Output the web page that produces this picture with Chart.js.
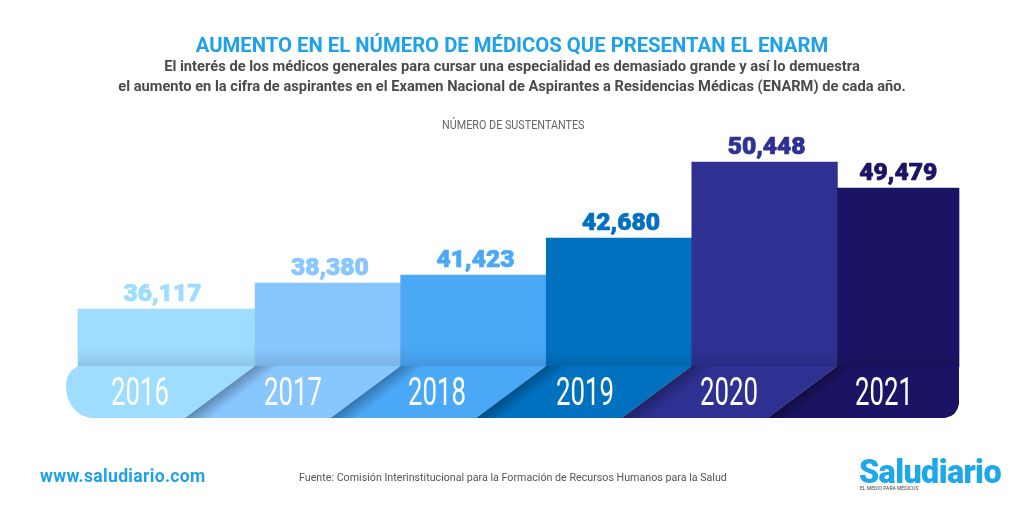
<!DOCTYPE html>
<html lang="es">
<head>
<meta charset="utf-8">
<style>
html,body{margin:0;padding:0;background:#fff;width:1024px;height:512px;overflow:hidden}
#wrap{position:relative;width:1024px;height:512px}
canvas{position:absolute;left:0;top:0}
.t{position:absolute;white-space:nowrap;font-family:Roboto,sans-serif}
.c{left:0;width:1024px;text-align:center}
</style>
<script src="https://cdn.jsdelivr.net/npm/chart.js@4"></script>
</head>
<body>
<div id="wrap">
<canvas id="c" width="1024" height="512"></canvas>
<div class="t c" style="top:33px;font-size:20.3px;font-weight:700;color:#1ea1ea">AUMENTO EN EL NÚMERO DE MÉDICOS QUE PRESENTAN EL ENARM</div>
<div class="t c" style="top:57px;font-size:14.7px;font-weight:700;color:#4a4a4a">El interés de los médicos generales para cursar una especialidad es demasiado grande y así lo demuestra</div>
<div class="t c" style="top:77px;font-size:14.65px;font-weight:700;color:#4a4a4a">el aumento en la cifra de aspirantes en el Examen Nacional de Aspirantes a Residencias Médicas (ENARM) de cada año.</div>
<div class="t" style="left:442px;top:116px;font-size:13.5px;color:#666;transform:scaleX(.8);transform-origin:left top">NÚMERO DE SUSTENTANTES</div>
<div class="t" style="left:40px;top:466px;font-size:17.6px;font-weight:700;letter-spacing:.3px;color:#1ea1ea">www.saludiario.com</div>
<div class="t" style="left:299px;top:471px;font-size:10.7px;color:#555">Fuente: Comisión Interinstitucional para la Formación de Recursos Humanos para la Salud</div>
<div class="t" style="left:859px;top:453px;font-size:32.3px;font-weight:900;letter-spacing:-.6px;color:#1ea7ea">Saludiario</div>
<div class="t" style="left:860px;top:485px;font-size:5px;color:#444">EL MEDIO PARA MÉDICOS</div>
</div>
<script>
const anios = ['2016','2017','2018','2019','2020','2021'];
// Printed figures, as labelled on the bars.
const sustentantes = [36117,38380,41423,42680,50448,49479];
// Bar heights as actually drawn in the picture: the original is not to scale with
// its printed figures, so the heights are read separately from the labels.
const alturas = [36117,38657,39436,43042,50448,47915];
const colores = ['#9EDDFF','#88C6FF','#4AA8F7','#0071BF','#2E3192','#1B1464'];

const BAND_TOP = 366, BAND_BOTTOM = 418, SLANT = 70, LEFT_X = 78, RIGHT_X = 959;

function fmt(n){ return n.toLocaleString('en-US'); }

function fitText(ctx, txt, cx, baseY, width, font, color, heavy){
  ctx.save();
  ctx.font = font; ctx.fillStyle = color;
  ctx.textAlign = 'center'; ctx.textBaseline = 'alphabetic';
  const w = ctx.measureText(txt).width;
  ctx.translate(cx, baseY); ctx.scale(width / w, 1);
  if (heavy){ ctx.strokeStyle = color; ctx.lineWidth = heavy; ctx.lineJoin = 'round'; ctx.strokeText(txt, 0, 0); }
  ctx.fillText(txt, 0, 0);
  ctx.restore();
}

const reshape = {
  id: 'reshape',
  // The first and last columns are not one category wide in the original,
  // and the columns stop where the band begins.
  beforeDatasetsDraw(chart){
    const bars = chart.getDatasetMeta(0).data;
    const first = bars[0], last = bars[bars.length - 1];
    const fr = first.x + first.width / 2;
    first.width = fr - LEFT_X; first.x = LEFT_X + first.width / 2;
    const ll = last.x - last.width / 2;
    last.width = RIGHT_X - ll; last.x = ll + last.width / 2;
    bars.forEach(b => { b.base = BAND_TOP + 1; });
  }
};

const band = {
  id: 'band',
  afterDatasetsDraw(chart){
    const ctx = chart.ctx, bars = chart.getDatasetMeta(0).data, n = bars.length;
    const T = BAND_TOP, B = BAND_BOTTOM;
    // contact shadow at the foot of every column
    bars.forEach(b => {
      const l = b.x - b.width / 2;
      const g = ctx.createLinearGradient(0, T - 18, 0, T);
      g.addColorStop(0, 'rgba(0,0,0,0)'); g.addColorStop(1, 'rgba(0,0,0,.10)');
      ctx.fillStyle = g; ctx.fillRect(l, T - 18, b.width, 18);
    });
    for (let i = 0; i < n; i++){
      const b = bars[i];
      const l = b.x - b.width / 2, r = b.x + b.width / 2;
      ctx.save();
      ctx.beginPath();
      if (i === 0){
        ctx.moveTo(LEFT_X, T);
        ctx.quadraticCurveTo(66, T + 6, 66, T + 20);
        ctx.bezierCurveTo(66, T + 38, 78, B, 93, B);
      } else {
        ctx.moveTo(l, T); ctx.lineTo(l - SLANT, B);
      }
      if (i === n - 1){
        ctx.lineTo(RIGHT_X - 14, B);
        ctx.quadraticCurveTo(RIGHT_X - 2, B - 2, RIGHT_X, B - 14);
        ctx.lineTo(RIGHT_X, T);
      } else {
        ctx.lineTo(r - SLANT, B); ctx.lineTo(r, T);
      }
      ctx.closePath();
      ctx.fillStyle = colores[i];
      ctx.fill();
      ctx.clip();
      if (i > 0){
        // soft shadow along the fold
        const g = ctx.createLinearGradient(l - 37, T + 26, l - 27, T + 39);
        g.addColorStop(0, 'rgba(0,0,0,.32)'); g.addColorStop(1, 'rgba(0,0,0,0)');
        ctx.fillStyle = g; ctx.fillRect(l - SLANT, T, 110, B - T);
      }
      ctx.restore();
    }
    const yearX = [140,293,437,585,729,884];
    anios.forEach((y, i) => {
      fitText(ctx, y, yearX[i], 405, 58, "38px 'Liberation Sans Narrow', Roboto, sans-serif", '#ffffff');
      const b = bars[i];
      fitText(ctx, fmt(sustentantes[i]), i === 5 ? b.x : b.x + (i === 0 ? -4 : 2), b.y - 8, 78, "900 24px Roboto, sans-serif", colores[i], 0.7);
    });
  }
};

new Chart(document.getElementById('c'), {
  type: 'bar',
  data: { labels: anios, datasets: [{ label: 'Número de sustentantes', data: alturas, backgroundColor: colores,
    barPercentage: 1, categoryPercentage: 1, borderWidth: 0, clip: false }] },
  plugins: [reshape, band],
  options: {
    responsive: false, animation: false, devicePixelRatio: 1,
    layout: { padding: { left: 109.5, right: 41, top: 100, bottom: 94 } },
    plugins: { legend: { display: false }, tooltip: { enabled: false }, title: { display: false } },
    scales: {
      x: { display: false, grid: { display: false } },
      y: { display: false, min: 25500, max: 56490, grid: { display: false } }
    }
  }
});
</script>
</body>
</html>
